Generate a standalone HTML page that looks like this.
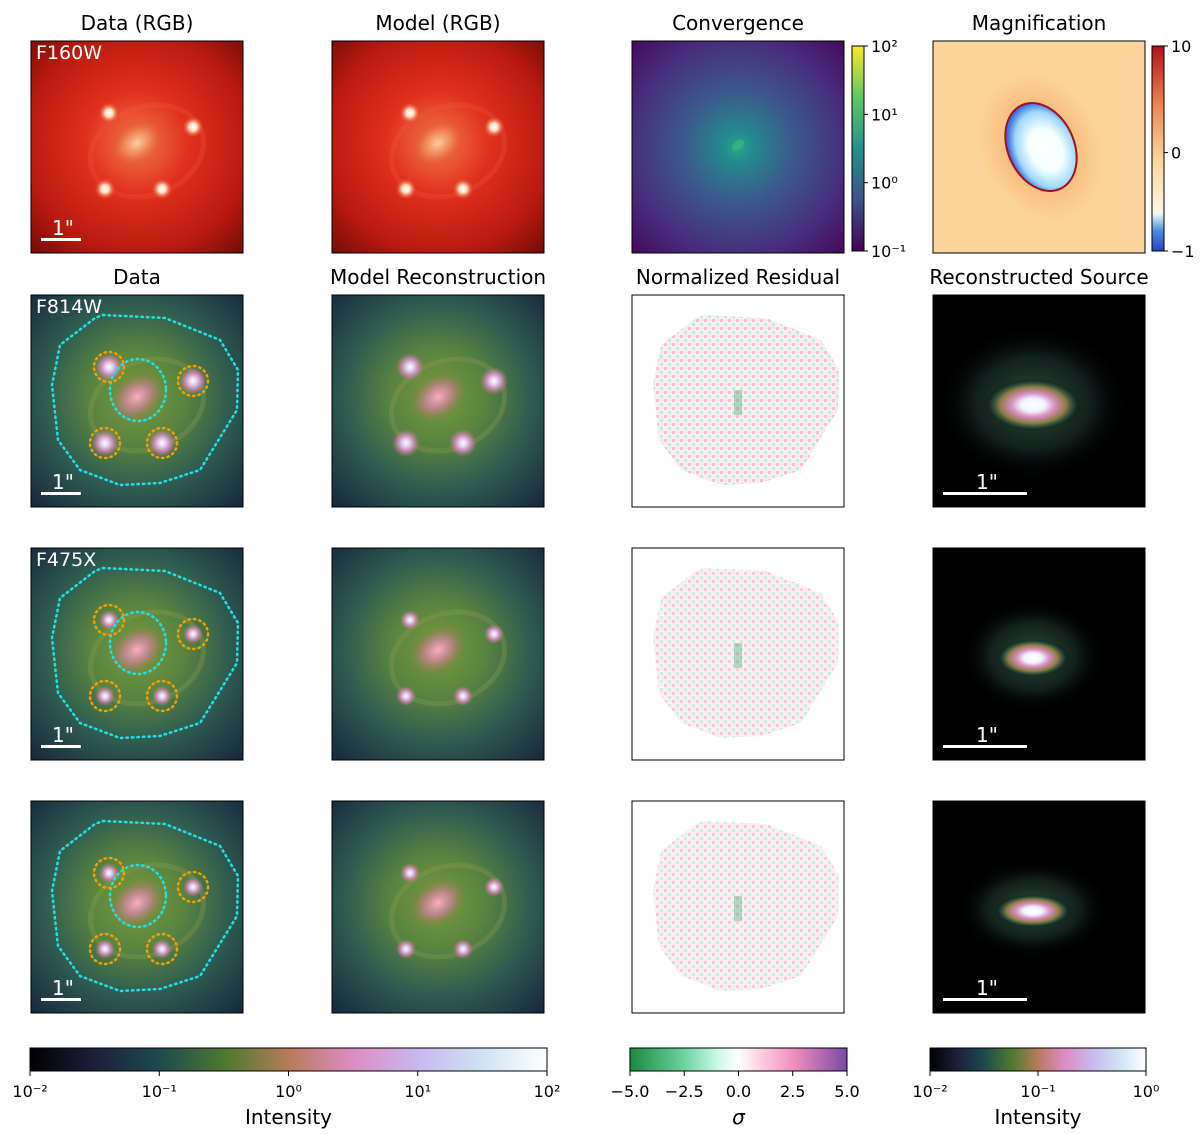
<!DOCTYPE html>
<html><head><meta charset="utf-8"><style>
body{margin:0;background:#fff;}
svg{display:block;font-family:"DejaVu Sans","Liberation Sans",sans-serif;}
</style></head><body>
<svg id="fig" width="1200" height="1134" viewBox="0 0 1200 1134" xmlns="http://www.w3.org/2000/svg">
<defs>
<radialGradient id="gRed" cx="0.5" cy="0.48" r="0.7"><stop offset="0" stop-color="#f07a4a"/><stop offset="0.35" stop-color="#e0301c"/><stop offset="0.75" stop-color="#b81a10"/><stop offset="1" stop-color="#7a0d08"/></radialGradient>
<radialGradient id="gCube" cx="0.5" cy="0.48" r="0.72"><stop offset="0" stop-color="#7a9a3a"/><stop offset="0.3" stop-color="#5a8540"/><stop offset="0.6" stop-color="#2f5d50"/><stop offset="1" stop-color="#16273e"/></radialGradient>
<radialGradient id="gConv" cx="0.5" cy="0.5" r="0.72"><stop offset="0" stop-color="#2aa88a"/><stop offset="0.1" stop-color="#238a8d"/><stop offset="0.35" stop-color="#3b5b8c"/><stop offset="0.7" stop-color="#472e7c"/><stop offset="1" stop-color="#44075a"/></radialGradient>
<radialGradient id="gCore" cx="0.5" cy="0.5" r="0.5"><stop offset="0" stop-color="#f8b0c0"/><stop offset="0.5" stop-color="#d080a0" stop-opacity="0.7"/><stop offset="1" stop-color="#a07050" stop-opacity="0"/></radialGradient>
<radialGradient id="gRedCore" cx="0.5" cy="0.5" r="0.5"><stop offset="0" stop-color="#ffd0a0"/><stop offset="0.5" stop-color="#f09060" stop-opacity="0.7"/><stop offset="1" stop-color="#e04020" stop-opacity="0"/></radialGradient>
<radialGradient id="gSpot" cx="0.5" cy="0.5" r="0.5"><stop offset="0" stop-color="#ffffff"/><stop offset="0.3" stop-color="#e0c8f0"/><stop offset="0.6" stop-color="#d88ab8" stop-opacity="0.8"/><stop offset="1" stop-color="#c07090" stop-opacity="0"/></radialGradient>
<radialGradient id="gSpotR" cx="0.5" cy="0.5" r="0.5"><stop offset="0" stop-color="#ffffff"/><stop offset="0.35" stop-color="#ffe0c0"/><stop offset="0.7" stop-color="#f07050" stop-opacity="0.6"/><stop offset="1" stop-color="#e03020" stop-opacity="0"/></radialGradient>
<radialGradient id="gSrc" cx="0.5" cy="0.5" r="0.5"><stop offset="0" stop-color="#ffffff"/><stop offset="0.25" stop-color="#f0f4ff"/><stop offset="0.45" stop-color="#d890c0"/><stop offset="0.7" stop-color="#8a7a40"/><stop offset="0.85" stop-color="#2a5040" stop-opacity="0.7"/><stop offset="1" stop-color="#000" stop-opacity="0"/></radialGradient>
<radialGradient id="gHalo" cx="0.5" cy="0.5" r="0.5"><stop offset="0" stop-color="#3a6a40" stop-opacity="0.8"/><stop offset="0.6" stop-color="#24403a" stop-opacity="0.5"/><stop offset="1" stop-color="#000" stop-opacity="0"/></radialGradient>
<radialGradient id="gMagBg" cx="0.5" cy="0.5" r="0.5"><stop offset="0.35" stop-color="#f06030"/><stop offset="0.5" stop-color="#f8b070"/><stop offset="0.8" stop-color="#fbd090"/><stop offset="1" stop-color="#fcd59c" stop-opacity="0"/></radialGradient>
<radialGradient id="gMagIn" cx="0.55" cy="0.55" r="0.55"><stop offset="0" stop-color="#ffffff"/><stop offset="0.45" stop-color="#f4ffff"/><stop offset="0.8" stop-color="#9ed8fa"/><stop offset="1" stop-color="#3a70e0"/></radialGradient>
<linearGradient id="cbCube" x1="0" x2="1"><stop offset="0" stop-color="#000000"/><stop offset="0.12" stop-color="#1c1d3a"/><stop offset="0.25" stop-color="#1d4a4e"/><stop offset="0.38" stop-color="#4e7a30"/><stop offset="0.5" stop-color="#b57c5a"/><stop offset="0.62" stop-color="#dc8cc0"/><stop offset="0.75" stop-color="#c8b8ee"/><stop offset="0.88" stop-color="#cfe4f4"/><stop offset="1" stop-color="#ffffff"/></linearGradient>
<linearGradient id="cbRes" x1="0" x2="1"><stop offset="0" stop-color="#1b8a3e"/><stop offset="0.25" stop-color="#6cd3a0"/><stop offset="0.4" stop-color="#c8f8e6"/><stop offset="0.5" stop-color="#ffffff"/><stop offset="0.6" stop-color="#fcd0e0"/><stop offset="0.75" stop-color="#f090c0"/><stop offset="1" stop-color="#7a4aa0"/></linearGradient>
<linearGradient id="cbVir" x1="0" x2="0" y1="1" y2="0"><stop offset="0" stop-color="#440154"/><stop offset="0.25" stop-color="#3b528b"/><stop offset="0.5" stop-color="#21918c"/><stop offset="0.75" stop-color="#5ec962"/><stop offset="1" stop-color="#fde725"/></linearGradient>
<linearGradient id="cbMag" x1="0" x2="0" y1="1" y2="0"><stop offset="0" stop-color="#2a40c0"/><stop offset="0.1" stop-color="#4a90e0"/><stop offset="0.18" stop-color="#e8f6ff"/><stop offset="0.2" stop-color="#fff4e0"/><stop offset="0.45" stop-color="#fbd49a"/><stop offset="0.7" stop-color="#f08a50"/><stop offset="1" stop-color="#b01020"/></linearGradient>
<pattern id="noise" width="8" height="8" patternUnits="userSpaceOnUse"><rect width="8" height="8" fill="#f6eef2"/><rect x="0" y="0" width="3" height="3" fill="#f4b8d4"/><rect x="4" y="4" width="3" height="3" fill="#b8ecd4"/><rect x="5" y="0" width="2" height="2" fill="#fad8e8"/></pattern>
</defs>
<g id="root"></g>
</svg>
<script>
const NS="http://www.w3.org/2000/svg";
const root=document.getElementById('root');
function mk(tag,attrs,parent){const e=document.createElementNS(NS,tag);for(const k in attrs)e.setAttribute(k,attrs[k]);(parent||root).appendChild(e);return e;}
function txt(x,y,s,size,anchor,fill,parent){const t=mk('text',{x:x,y:y,'font-size':size,'text-anchor':anchor||'middle',fill:fill||'#000'},parent);t.textContent=s;return t;}

const colX=[31,332,632,933];
const rowY=[41,295,548,801];
const W=212;
const topTitles=["Data (RGB)","Model (RGB)","Convergence","Magnification"];
const rowTitles=["Data","Model Reconstruction","Normalized Residual","Reconstructed Source"];
const bandLabels=["F160W","F814W","F475X",""];
const spots=[[78,72],[162,86],[74,148],[131,148]];
const outerMask=[[72,20],[134,23],[189,45],[207,75],[206,115],[169,175],[129,188],[89,190],[49,175],[27,145],[21,90],[29,50],[64,23]];
const srcSize=[[48,22],[36,16],[38,14]];

topTitles.forEach((t,i)=>{const e=txt(colX[i]+106,30,t,20);});
rowTitles.forEach((t,i)=>{const e=txt(colX[i]+106,284,t,20);});

function lensImage(x,y,red,mod,row){
  const g=mk('g',{transform:`translate(${x},${y})`});
  
  
  mk('rect',{width:W,height:W,fill:red?'url(#gRed)':'url(#gCube)'},g);
  mk('ellipse',{cx:116,cy:110,rx:58,ry:44,fill:'none',stroke:red?'#f06040':'#8a9a50','stroke-width':5,opacity:red?0.25:0.35,transform:'rotate(-20 116 110)'},g);
  mk('ellipse',{cx:106,cy:102,rx:30,ry:22,fill:red?'url(#gRedCore)':'url(#gCore)',transform:'rotate(-35 106 102)'},g);
  spots.forEach(p=>mk('circle',{cx:p[0],cy:p[1],r:red?11:(row===1?14:10),fill:red?'url(#gSpotR)':'url(#gSpot)'},g));
  if(!red&&!mod){
    mk('polygon',{points:outerMask.map(p=>p.join(',')).join(' '),fill:'none',stroke:'#22e0e8','stroke-width':2.5,'stroke-dasharray':'1.5 4','stroke-linecap':'round'},g);
    mk('ellipse',{cx:107,cy:95,rx:28,ry:31,fill:'none',stroke:'#22e0e8','stroke-width':2.5,'stroke-dasharray':'1.5 4','stroke-linecap':'round'},g);
    spots.forEach(p=>mk('circle',{cx:p[0],cy:p[1],r:15,fill:'none',stroke:'#f0a000','stroke-width':2.5,'stroke-dasharray':'1.5 4','stroke-linecap':'round'},g));
  }
  if(!mod){
    mk('rect',{x:10,y:197,width:40,height:3,fill:'#fff'},g);
    txt(32,194,'1"',20,'middle','#fff',g);
  }
  if(!mod&&bandLabels[row]){txt(5,18,bandLabels[row],19,'start','#fff',g);}
  mk('rect',{width:W,height:W,fill:'none',stroke:'#000','stroke-width':1},g);
}
for(let r=0;r<4;r++){
  lensImage(colX[0],rowY[r],r===0,false,r);
  lensImage(colX[1],rowY[r],r===0,true,r);
}
// convergence
(function(){const g=mk('g',{transform:`translate(${colX[2]},${rowY[0]})`});

mk('rect',{width:W,height:W,fill:'url(#gConv)'},g);
mk('ellipse',{cx:106,cy:104,rx:7,ry:4,fill:'#3cc070',opacity:0.6,transform:'rotate(-40 106 104)'},g);
mk('rect',{width:W,height:W,fill:'none',stroke:'#000'},g);})();
// magnification
(function(){const g=mk('g',{transform:`translate(${colX[3]},${rowY[0]})`});

mk('rect',{width:W,height:W,fill:'#fcd59c'},g);
mk('ellipse',{cx:108,cy:106,rx:70,ry:92,fill:'url(#gMagBg)',opacity:0.6,transform:'rotate(-25 108 106)'},g);
mk('ellipse',{cx:108,cy:106,rx:34,ry:47,fill:'#a01020',transform:'rotate(-25 108 106)'},g);
mk('ellipse',{cx:108,cy:106,rx:32,ry:45,fill:'url(#gMagIn)',transform:'rotate(-25 108 106)'},g);
mk('rect',{width:W,height:W,fill:'none',stroke:'#000'},g);})();
// vertical colorbars
const convTicks=["10\u207b\u00b9","10\u2070","10\u00b9","10\u00b2"];
const convFrac=[0,1/3,2/3,1];
const magTicks=["\u22121","0","10"];
const magFrac=[0,0.48,1];
function vbar(x,fill,ticks,fr,name){const g=mk('g',{});
 mk('rect',{x:x,y:rowY[0]+5,width:12,height:205,fill:fill,stroke:'#000'},g);
 ticks.forEach((t,i)=>{const yy=rowY[0]+210-fr[i]*205;mk('line',{x1:x+12,x2:x+16,y1:yy,y2:yy,stroke:'#000'},g);txt(x+19,yy+6,t,16,'start','#000',g);});}
vbar(852,'url(#cbVir)',convTicks,convFrac,'convergence-colorbar');
vbar(1152,'url(#cbMag)',magTicks,magFrac,'magnification-colorbar');
// residuals
for(let r=1;r<4;r++){const g=mk('g',{transform:`translate(${colX[2]},${rowY[r]})`});
 
 mk('rect',{width:W,height:W,fill:'#fff'},g);
 mk('polygon',{points:outerMask.map(p=>p.join(',')).join(' '),fill:'url(#noise)',opacity:r===1?0.9:0.75},g);
 mk('rect',{x:102,y:95,width:8,height:25,fill:'#3aa060',opacity:0.35},g);
 mk('rect',{width:W,height:W,fill:'none',stroke:'#000'},g);}
// sources
for(let r=1;r<4;r++){const g=mk('g',{transform:`translate(${colX[3]},${rowY[r]})`});
 
 mk('rect',{width:W,height:W,fill:'#000'},g);
 const s=srcSize[r-1];
 mk('ellipse',{cx:100,cy:108,rx:s[0]*2,ry:s[1]*3.5,fill:'url(#gHalo)'},g);
 mk('ellipse',{cx:100,cy:110,rx:s[0],ry:s[1]*1.2,fill:'url(#gSrc)'},g);
 mk('rect',{x:10,y:197,width:84,height:3,fill:'#fff'},g);
 txt(54,194,'1"',20,'middle','#fff',g);
 mk('rect',{width:W,height:W,fill:'none',stroke:'#000'},g);}
// horizontal colorbars
const cb1Ticks=["10\u207b\u00b2","10\u207b\u00b9","10\u2070","10\u00b9","10\u00b2"];
const cb2Ticks=["\u22125.0","\u22122.5","0.0","2.5","5.0"];
const cb3Ticks=["10\u207b\u00b2","10\u207b\u00b9","10\u2070"];
function hbar(x,w,fill,ticks,label,name){const g=mk('g',{});
 mk('rect',{x:x,y:1048,width:w,height:23,fill:fill,stroke:'#000'},g);
 ticks.forEach((t,i)=>{const xx=x+w*i/(ticks.length-1);mk('line',{x1:xx,x2:xx,y1:1071,y2:1076,stroke:'#000'},g);txt(xx,1097,t,16,'middle','#000',g);});
 const l=txt(x+w/2,1124,label,20,'middle','#000',g);if(label==='σ')l.setAttribute('font-style','italic');}
hbar(30,517,'url(#cbCube)',cb1Ticks,'Intensity','intensity-colorbar');
hbar(630,217,'url(#cbRes)',cb2Ticks,'σ','residual-colorbar');
hbar(930,216,'url(#cbCube)',cb3Ticks,'Intensity','source-intensity-colorbar');
</script>
</body></html>
